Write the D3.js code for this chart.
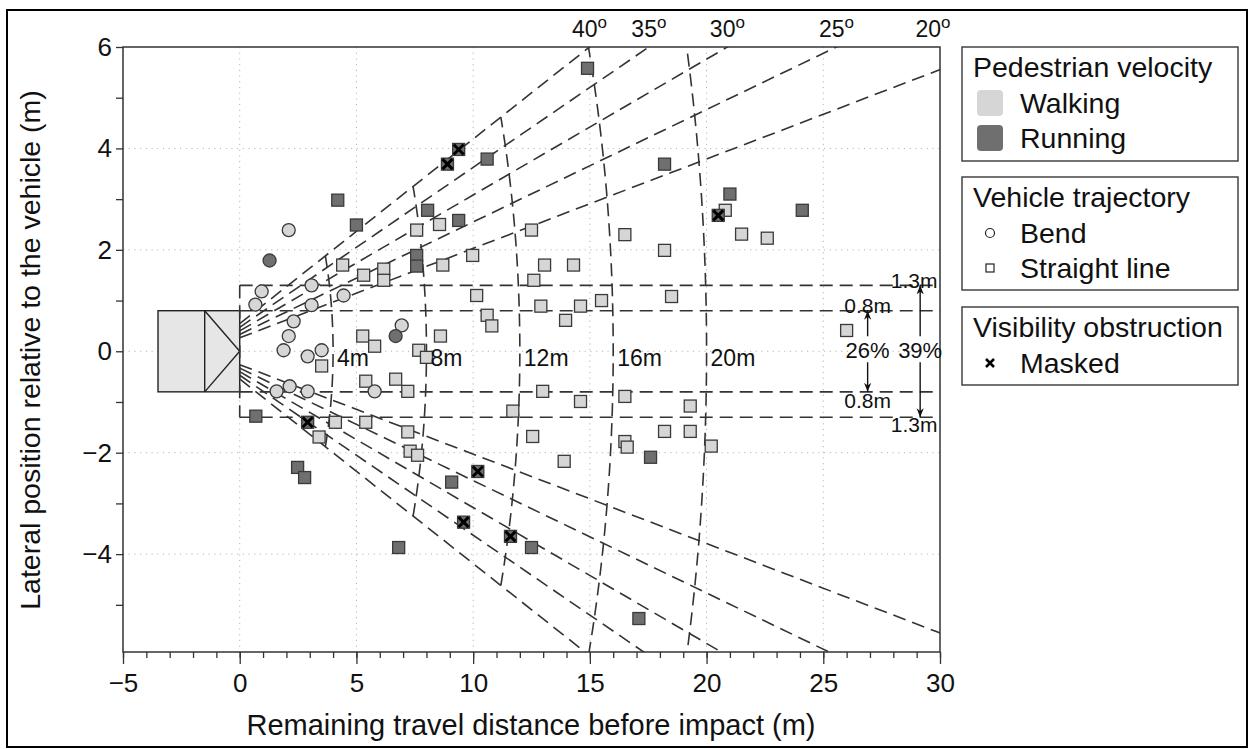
<!DOCTYPE html>
<html><head><meta charset="utf-8">
<script src="https://cdn.jsdelivr.net/npm/d3@7"></script>
<style>
body{margin:0;background:#fff}
text{font-family:"Liberation Sans",Arial,Helvetica,sans-serif;fill:#111}
</style>
</head><body>
<svg id="c" width="1250" height="749"></svg>
<script>
// ---------------- data ----------------
const xTicks = [-5, 0, 5, 10, 15, 20, 25, 30];
const yTicks = [-4, -2, 0, 2, 4, 6];
const fovAngles = [40, 35, 30, 25, 20];          // full field-of-view angles (deg)
const distances = [4, 8, 12, 16, 20];             // distance arcs (m)
const laneOffsets = [0.8, 1.3];                   // lateral half-widths (m)
const laneShares = ["26%", "39%"];
const annotX = [26.9, 29.15];
const legendVelocity = ["Walking", "Running"];
const legendTrajectory = ["Bend", "Straight line"];
const legendVisibility = ["Masked"];

const bendWalking = [
  [2.1,2.39],[0.94,1.18],[3.08,1.30],[4.45,1.10],[0.67,0.92],[3.08,0.91],
  [2.31,0.59],[2.1,0.30],[1.88,0.02],[2.91,-0.10],[3.51,0.02],[6.94,0.51],
  [5.78,-0.79],[1.58,-0.79],[2.14,-0.69],[2.91,-0.79]
];
const bendRunning = [[1.28,1.79],[6.68,0.30]];
const straightWalking = [
  [3.51,-0.29],[5.27,0.30],[5.78,0.10],[8.6,0.30],[7.67,0.02],[8.0,-0.12],
  [5.4,-0.59],[6.68,-0.55],[7.2,-0.79],[4.1,-1.40],[5.4,-1.40],[3.4,-1.69],
  [7.2,-1.59],[7.3,-1.97],[7.62,-2.05],[11.7,-1.18],[12.55,-1.68],[13.9,-2.17],
  [16.5,-1.78],[16.6,-1.89],[18.2,-1.58],[19.3,-1.58],[20.2,-1.87],[12.98,-0.79],
  [14.6,-0.99],[16.5,-0.89],[19.3,-1.08],[26.0,0.41],[20.8,2.78],[21.5,2.31],
  [22.6,2.23],[8.56,2.5],[7.58,2.39],[12.5,2.39],[16.5,2.3],[18.2,1.99],
  [4.41,1.70],[5.31,1.50],[6.17,1.62],[6.17,1.40],[8.7,1.70],[9.98,1.89],
  [13.06,1.70],[14.3,1.70],[12.6,1.40],[10.15,1.10],[10.6,0.71],[10.8,0.50],
  [12.9,0.89],[14.6,0.89],[15.5,1.0],[18.5,1.08],[13.96,0.61]
];
const straightRunning = [
  [0.69,-1.28],[2.48,-2.29],[2.78,-2.49],[9.08,-2.58],[6.81,-3.87],[12.5,-3.87],
  [17.6,-2.09],[17.1,-5.27],[18.2,3.69],[21.0,3.10],[24.1,2.78],[14.9,5.58],
  [10.6,3.79],[8.05,2.78],[9.38,2.58],[4.2,2.98],[5.0,2.49],[7.58,1.89],[7.58,1.68]
];
const maskedPts = [
  [2.91,-1.40],[10.2,-2.37],[9.59,-3.37],[11.6,-3.65],[20.5,2.68],[9.38,3.98],[8.9,3.69]
];
const car = {rear: -3.5, mid: -1.5, front: 0, half: 0.8};
const camX = -1.5;

// ---------------- setup ----------------
const svg = d3.select("#c");
const x = d3.scaleLinear().domain([-5, 30]).range([123, 940]);
const y = d3.scaleLinear().domain([-5.93, 6]).range([652, 47]);
const WALK = "#d6d6d6", RUN = "#6f6f6f", EDGE = "#3a3a3a", DASH = "#333";

svg.append("rect").attr("x",7).attr("y",10).attr("width",1240).attr("height",737)
  .attr("fill","none").attr("stroke","#000").attr("stroke-width",2);

svg.append("defs").append("clipPath").attr("id","clip")
  .append("rect").attr("x",123).attr("y",47).attr("width",817).attr("height",605);
const defs = svg.select("defs");
defs.append("marker").attr("id","arr").attr("viewBox","0 0 10 10")
  .attr("refX",10).attr("refY",5).attr("markerWidth",9).attr("markerHeight",9)
  .attr("markerUnits","userSpaceOnUse").attr("orient","auto")
  .append("path").attr("d","M0,1 L10,5 L0,9 L3,5 z").attr("fill","#111");

// grid
const grid = svg.append("g");
grid.selectAll(".gx").data(xTicks.filter(d => d > -5 && d < 30)).join("line")
  .attr("x1", d => x(d)).attr("x2", d => x(d)).attr("y1", 47).attr("y2", 652)
  .attr("stroke","#b5b5b5").attr("stroke-width",1).attr("stroke-dasharray","1.2,4.5");
grid.selectAll(".gy").data(yTicks.filter(d => d < 6)).join("line")
  .attr("y1", d => y(d)).attr("y2", d => y(d)).attr("x1", 123).attr("x2", 940)
  .attr("stroke","#b5b5b5").attr("stroke-width",1).attr("stroke-dasharray","1.2,4.5");

// axes
const xMajor = d3.axisBottom(x).tickValues(xTicks).tickSize(12).tickPadding(10);
const xMinor = d3.axisBottom(x).tickValues(d3.range(-5, 31, 1)).tickSize(6).tickFormat("");
const gxm = svg.append("g").attr("transform","translate(0,652)").call(xMinor);
const gx = svg.append("g").attr("transform","translate(0,652)").call(xMajor);
const yAll = d3.axisLeft(y).tickValues(d3.range(-5, 7, 1)).tickSize(7).tickPadding(4)
  .tickFormat(d => yTicks.includes(d) ? d3.format("")(d) : "");
const gy = svg.append("g").attr("transform","translate(123,0)").call(yAll);
[gx, gxm, gy].forEach(g => {
  g.selectAll("path.domain").remove();
  g.selectAll("line").attr("stroke","#333").attr("stroke-width",1.3);
  g.selectAll("text").attr("font-size",26).attr("fill","#111")
    .style("font-family","Liberation Sans, Arial, sans-serif");
});

svg.append("text").attr("x", 531).attr("y", 735).attr("text-anchor","middle")
  .attr("font-size",29).text("Remaining travel distance before impact (m)");
svg.append("text").attr("transform","translate(40,350) rotate(-90)").attr("text-anchor","middle")
  .attr("font-size",28.5).text("Lateral position relative to the vehicle (m)");

// ---------------- plot content ----------------
const plot = svg.append("g").attr("clip-path","url(#clip)");
const line = d3.line().x(d => x(d[0])).y(d => y(d[1]));
const dashStyle = sel => sel.attr("fill","none").attr("stroke",DASH)
  .attr("stroke-width",1.6).attr("stroke-dasharray","13,7");

// car
plot.append("rect").attr("x", x(car.rear)).attr("y", y(car.half))
  .attr("width", x(car.front) - x(car.rear)).attr("height", y(-car.half) - y(car.half))
  .attr("fill","#e6e6e6").attr("stroke","#222").attr("stroke-width",1.4);
plot.append("path").attr("d", line([[car.mid, car.half],[car.mid, -car.half]]))
  .attr("stroke","#222").attr("stroke-width",1.4).attr("fill","none");
plot.append("path").attr("d", line([[car.mid, car.half],[car.front, 0],[car.mid, -car.half]]))
  .attr("stroke","#222").attr("stroke-width",1.4).attr("fill","none");

// rays
fovAngles.forEach(a => {
  const t = Math.tan(a / 2 * Math.PI / 180);
  [1, -1].forEach(s => {
    plot.append("path").attr("d", line([[0, s * (0 - camX) * t], [40, s * (40 - camX) * t]])).call(dashStyle);
  });
});
// arcs
const half = Math.max(...fovAngles) / 2 * Math.PI / 180;
distances.forEach(dd => {
  const R = dd - camX;
  const pts = d3.range(-half, half + 1e-9, half / 40).map(p => [camX + R * Math.cos(p), R * Math.sin(p)]);
  plot.append("path").attr("d", line(pts)).call(dashStyle);
});
// lane lines
laneOffsets.forEach(o => {
  [1, -1].forEach(s => plot.append("path").attr("d", line([[0, s * o], [30, s * o]])).call(dashStyle));
});
plot.append("path").attr("d", line([[0, laneOffsets[1]], [0, -laneOffsets[1]]])).call(dashStyle);

// distance labels
svg.selectAll(".dl").data(distances).join("text")
  .attr("x", d => x(d) + 4).attr("y", y(-0.3)).attr("font-size",23).text(d => d + "m");

// angle labels
const angT = svg.selectAll(".al").data(fovAngles).join("text")
  .attr("x", a => x(Math.min(6 / Math.tan(a / 2 * Math.PI / 180) + camX, 29.7)))
  .attr("y", 37).attr("text-anchor","middle").attr("font-size",23);
angT.append("tspan").text(a => a);
angT.append("tspan").attr("dy",-9).attr("font-size",17).text("o");

// points
const sq = 12;
const drawSquares = (data, fill) => plot.append("g").selectAll("rect").data(data).join("rect")
  .attr("x", d => x(d[0]) - sq / 2).attr("y", d => y(d[1]) - sq / 2)
  .attr("width", sq).attr("height", sq).attr("fill", fill)
  .attr("stroke", EDGE).attr("stroke-width",1.3);
const drawCircles = (data, fill) => plot.append("g").selectAll("circle").data(data).join("circle")
  .attr("cx", d => x(d[0])).attr("cy", d => y(d[1])).attr("r", 6.5).attr("fill", fill)
  .attr("stroke", EDGE).attr("stroke-width",1.3);
drawSquares(straightWalking, WALK);
drawSquares(straightRunning, RUN);
drawCircles(bendWalking, WALK);
drawCircles(bendRunning, RUN);
drawSquares(maskedPts, RUN);
const xs = 5;
plot.append("g").selectAll("path").data(maskedPts).join("path")
  .attr("d", d => `M${x(d[0])-xs},${y(d[1])-xs}L${x(d[0])+xs},${y(d[1])+xs}M${x(d[0])-xs},${y(d[1])+xs}L${x(d[0])+xs},${y(d[1])-xs}`)
  .attr("stroke","#000").attr("stroke-width",3).attr("fill","none");

// plot frame
svg.append("rect").attr("x",123).attr("y",47).attr("width",817).attr("height",605)
  .attr("fill","none").attr("stroke","#333").attr("stroke-width",1.5);

// lane-share annotations
laneOffsets.forEach((o, i) => {
  const ax = x(annotX[i]);
  svg.append("line").attr("x1", ax).attr("x2", ax).attr("y1", y(0) - 15).attr("y2", y(o))
    .attr("stroke","#111").attr("stroke-width",1.4).attr("marker-end","url(#arr)");
  svg.append("line").attr("x1", ax).attr("x2", ax).attr("y1", y(0) + 11).attr("y2", y(-o))
    .attr("stroke","#111").attr("stroke-width",1.4).attr("marker-end","url(#arr)");
  svg.append("text").attr("x", ax).attr("y", y(0) + 7).attr("text-anchor","middle")
    .attr("font-size",22).text(laneShares[i]);
});
svg.append("text").attr("x", x(annotX[0])).attr("y", y(laneOffsets[0]) + 2).attr("text-anchor","middle").attr("font-size",21).text(laneOffsets[0] + "m");
svg.append("text").attr("x", x(annotX[0])).attr("y", y(-laneOffsets[0]) + 16).attr("text-anchor","middle").attr("font-size",21).text(laneOffsets[0] + "m");
svg.append("text").attr("x", x(annotX[1]) - 6).attr("y", y(laneOffsets[1]) + 3).attr("text-anchor","middle").attr("font-size",21).text(laneOffsets[1] + "m");
svg.append("text").attr("x", x(annotX[1]) - 6).attr("y", y(-laneOffsets[1]) + 15).attr("text-anchor","middle").attr("font-size",21).text(laneOffsets[1] + "m");

// ---------------- legend ----------------
const lg = svg.append("g");
const boxes = [
  {y: 47, h: 114, title: "Pedestrian velocity", items: legendVelocity},
  {y: 177, h: 113, title: "Vehicle trajectory", items: legendTrajectory},
  {y: 307, h: 78, title: "Visibility obstruction", items: legendVisibility}
];
boxes.forEach((b, bi) => {
  lg.append("rect").attr("x",962).attr("y",b.y).attr("width",276).attr("height",b.h)
    .attr("fill","#fff").attr("stroke","#444").attr("stroke-width",1.5);
  lg.append("text").attr("x",973).attr("y",b.y + 30).attr("font-size",28.5).text(b.title);
  b.items.forEach((it, ii) => {
    const by = b.y + 66 + ii * 35;
    lg.append("text").attr("x",1020).attr("y",by).attr("font-size",28.5).text(it);
    const cy = by - 10;
    if (bi === 0) {
      lg.append("rect").attr("x",977).attr("y",cy - 13).attr("width",26).attr("height",26)
        .attr("rx",4).attr("fill", ii === 0 ? WALK : RUN);
    } else if (bi === 1) {
      if (ii === 0) lg.append("circle").attr("cx",990).attr("cy",cy).attr("r",4.5)
        .attr("fill","#fff").attr("stroke","#222").attr("stroke-width",1.2);
      else lg.append("rect").attr("x",986).attr("y",cy - 4).attr("width",8).attr("height",8)
        .attr("fill","#fff").attr("stroke","#222").attr("stroke-width",1.2);
    } else {
      lg.append("path").attr("d",`M${986},${cy-4}L${994},${cy+4}M${986},${cy+4}L${994},${cy-4}`)
        .attr("stroke","#000").attr("stroke-width",2.5);
    }
  });
});
</script>
</body></html>
